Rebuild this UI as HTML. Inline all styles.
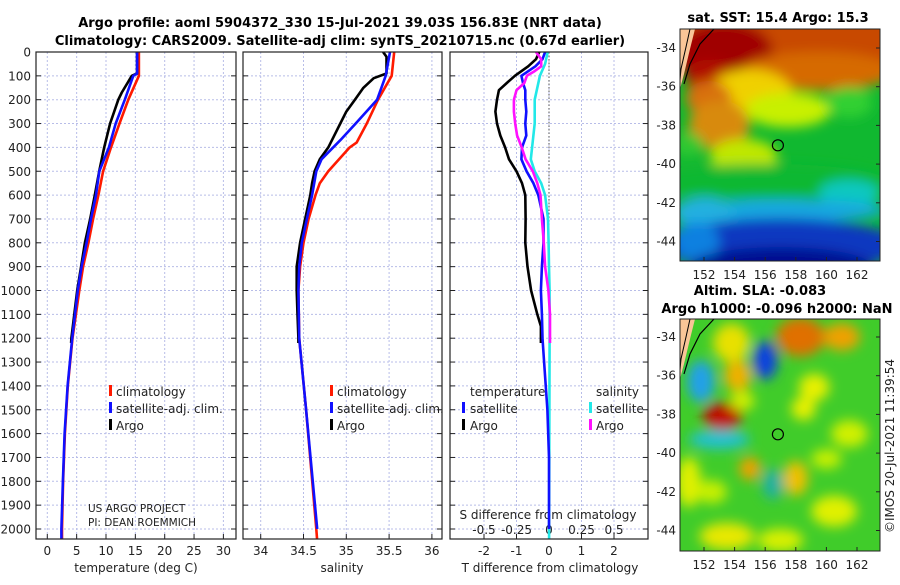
<!DOCTYPE html>
<html><head><meta charset="utf-8"><style>
body{margin:0;background:#fff;width:900px;height:580px;overflow:hidden}
text{font-family:"DejaVu Sans","Liberation Sans",sans-serif;fill:#222}
.t{font-weight:bold;font-size:13px;fill:#000}
</style></head><body>
<svg id="chart" width="900" height="580" viewBox="0 0 900 580" xmlns="http://www.w3.org/2000/svg">
<defs>
<clipPath id="c1"><rect x="36" y="52" width="200" height="487"/></clipPath>
<clipPath id="c2"><rect x="243" y="52" width="199" height="487"/></clipPath>
<clipPath id="c3"><rect x="450" y="52" width="198" height="487"/></clipPath>
<clipPath id="m1"><rect x="680" y="29" width="200" height="232"/></clipPath>
<clipPath id="m2"><rect x="680" y="319" width="200" height="232"/></clipPath>
<filter id="bl" x="-20%" y="-20%" width="140%" height="140%"><feGaussianBlur stdDeviation="6"/></filter>
</defs>
<text class="t" x="340" y="27" text-anchor="middle">Argo profile: aoml 5904372_330 15-Jul-2021 39.03S 156.83E (NRT data)</text>
<text class="t" x="340" y="45" text-anchor="middle">Climatology: CARS2009. Satellite-adj clim: synTS_20210715.nc (0.67d earlier)</text>
<g id="plots"></g>
<g id="maps"></g>
</svg>
<script>
const depths1=[0,90,100,200,300,400,500,600,700,800,900,1000,1200,1400,1600,1800,2000,2050];
const tempClim=[15.6,15.6,15.6,13.8,12.3,10.85,9.5,8.7,7.8,7.0,6.1,5.45,4.3,3.5,3.0,2.7,2.5,2.5];
const tempSat=[15.3,15.3,14.65,13.2,11.65,10.5,8.86,8.3,7.45,6.7,5.85,5.2,4.25,3.45,2.95,2.65,2.4,2.4];
const depthsArgo=[0,90,100,170,200,300,400,500,600,700,800,900,1000,1100,1200,1220];
const tempArgo=[15.3,15.3,14.4,12.7,12.1,10.7,9.7,8.85,8.1,7.3,6.4,5.75,5.1,4.6,4.1,4.05];
const depthsS=[0,100,150,200,300,380,400,500,550,600,700,800,900,1000,1200,1500,2000,2050];
const salClim=[35.56,35.53,35.45,35.37,35.24,35.12,35.04,34.79,34.69,34.64,34.56,34.5,34.46,34.44,34.45,34.53,34.65,34.66];
const depthsSSat=[0,100,200,300,370,450,500,600,700,800,900,1000,1200,1500,2000];
const salSat=[35.51,35.46,35.36,35.11,34.93,34.71,34.65,34.6,34.54,34.48,34.45,34.44,34.45,34.53,34.66];
const depthsSArgo=[0,20,90,110,150,200,250,300,400,450,500,550,600,700,800,900,1000,1100,1200,1220];
const salArgo=[35.43,35.47,35.47,35.32,35.2,35.1,35.0,34.93,34.79,34.69,34.63,34.6,34.58,34.52,34.46,34.42,34.42,34.43,34.44,34.44];
const depthsD=[0,30,60,100,130,160,200,250,300,350,400,450,500,550,600,700,800,900,1000,1100,1150,1200,1220];
const tDiffArgo=[-0.3,-0.4,-0.64,-1.05,-1.3,-1.54,-1.6,-1.65,-1.6,-1.5,-1.35,-1.23,-1.0,-0.83,-0.73,-0.72,-0.73,-0.66,-0.55,-0.36,-0.25,-0.25,-0.25];
const depthsDSat=[0,30,60,100,130,160,200,250,300,350,400,450,500,550,600,700,800,900,1000,1100,1200,1300,1500,1700,2000];
const tDiffSat=[-0.12,-0.2,-0.42,-0.85,-0.8,-0.73,-0.73,-0.7,-0.73,-0.7,-0.83,-0.85,-0.69,-0.48,-0.33,-0.17,-0.17,-0.22,-0.25,-0.22,-0.2,-0.15,-0.05,0,0];
const depthsSD=[0,30,60,80,100,130,160,200,250,300,350,400,450,500,550,600,700,800,900,1000,1100,1200,1220];
const sDiffArgo=[-0.1,-0.06,-0.06,-0.11,-0.17,-0.19,-0.25,-0.27,-0.27,-0.26,-0.245,-0.21,-0.18,-0.125,-0.09,-0.065,-0.055,-0.04,-0.03,-0.005,0.008,0.008,0.008];
const depthsSDSat=[0,50,100,200,300,400,450,500,550,600,700,800,900,1000,1200,1500,2000,2050];
const sDiffSat=[-0.01,-0.03,-0.07,-0.11,-0.11,-0.13,-0.14,-0.11,-0.06,-0.03,-0.008,-0.003,0.0,0.005,0.005,0.003,0.001,0.001];
const depthTicks=[0,100,200,300,400,500,600,700,800,900,1000,1100,1200,1300,1400,1500,1600,1700,1800,1900,2000];
const tempTicks=[0,5,10,15,20,25,30];
const salTicks=[34,34.5,35,35.5,36];
const tdTicks=[-2,-1,0,1,2];
const sdTicks=[-0.5,-0.25,0,0.25,0.5];
const sdTickLabels=["-0.5","-0.25","0","0.25","0.5"];

const NS="http://www.w3.org/2000/svg";
function mk(tag,attrs,parent){const e=document.createElementNS(NS,tag);for(const k in attrs)e.setAttribute(k,attrs[k]);parent.appendChild(e);return e;}
const yD=d=>52+d*0.2385;
const xT=v=>47.3+v*5.87;
const xS=v=>260.7+(v-34)*85.6;
const xTD=v=>549+v*32.5;
const xSD=v=>549+v*130;
const G=document.getElementById('plots');

const panels=[{x:36,w:200,clip:'c1',name:'temperature-panel'},{x:243,w:199,clip:'c2',name:'salinity-panel'},{x:450,w:198,clip:'c3',name:'difference-panel'}];
function grid(p,xs){
  xs.forEach(x=>{const l=mk('line',{x1:x,x2:x,y1:52,y2:539,stroke:'#b8bde8','stroke-width':1,'stroke-dasharray':'2,2'},G);
  
  });
  depthTicks.forEach(d=>{const l=mk('line',{x1:p.x,x2:p.x+p.w,y1:yD(d),y2:yD(d),stroke:'#b8bde8','stroke-width':1,'stroke-dasharray':'2,2'},G);
  
  
  const t1=mk('line',{x1:p.x,x2:p.x+5,y1:yD(d),y2:yD(d),stroke:'#222','stroke-width':1},G);
  
  
  const t2=mk('line',{x1:p.x+p.w-5,x2:p.x+p.w,y1:yD(d),y2:yD(d),stroke:'#222','stroke-width':1},G);
  
  });
  xs.forEach(x=>{const t=mk('line',{x1:x,x2:x,y1:534,y2:539,stroke:'#222'},G);
  
  });
}
grid(panels[0],tempTicks.map(xT));
grid(panels[1],salTicks.map(xS));
grid(panels[2],tdTicks.map(xTD));
const zl=mk('line',{x1:549,x2:549,y1:52,y2:539,stroke:'#555','stroke-dasharray':'1.5,2'},G);



depthTicks.forEach(d=>{const t=mk('text',{x:31,y:yD(d)+4.5,'text-anchor':'end','font-size':12},G);t.textContent=d;

});
function xlabels(ticks,fx,labels,y){ticks.forEach((v,i)=>{const t=mk('text',{x:fx(v),y:y,'text-anchor':'middle','font-size':12},G);t.textContent=labels?labels[i]:v;

});}
xlabels(tempTicks,xT,null,555);
xlabels(salTicks,xS,null,555);
xlabels(tdTicks,xTD,null,555);
xlabels(sdTicks,xSD,sdTickLabels,534);
function txt(s,x,y,name,size,anchor){const t=mk('text',{x:x,y:y,'font-size':size||12,'text-anchor':anchor||'start'},G);t.textContent=s;

return t;}
txt('temperature (deg C)',136,572,'x-axis-title-temperature',12,'middle');
txt('salinity',342,572,'x-axis-title-salinity',12,'middle');
txt('T difference from climatology',550,572,'x-axis-title-t-difference',12,'middle');
txt('S difference from climatology',548,519,'s-axis-title',12,'middle');
txt('US ARGO PROJECT',88,512,'credit-project',10.5);
txt('PI: DEAN ROEMMICH',88,526,'credit-pi',10.5);

function line(ds,vs,fx,color,clip,name){
  const pts=ds.map((d,i)=>fx(vs[i]).toFixed(1)+','+yD(d).toFixed(1)).join(' ');
  const p=mk('polyline',{points:pts,fill:'none',stroke:color,'stroke-width':2.6,'stroke-linejoin':'round','clip-path':'url(#'+clip+')'},G);
  
  
}
line(depths1,tempClim,xT,'#ff1a00','c1','temperature-climatology-line');
line(depthsArgo,tempArgo,xT,'#000','c1','temperature-argo-line');
line(depths1,tempSat,xT,'#1010ff','c1','temperature-satellite-line');
line(depthsS,salClim,xS,'#ff1a00','c2','salinity-climatology-line');
line(depthsSArgo,salArgo,xS,'#000','c2','salinity-argo-line');
line(depthsSSat,salSat,xS,'#1010ff','c2','salinity-satellite-line');
line(depthsD,tDiffArgo,xTD,'#000','c3','t-diff-argo-line');
line(depthsSDSat,sDiffSat,xSD,'#22e8e8','c3','s-diff-satellite-line');
line(depthsDSat,tDiffSat,xTD,'#1010ff','c3','t-diff-satellite-line');
line(depthsSD,sDiffArgo,xSD,'#ff10ff','c3','s-diff-argo-line');

panels.forEach(p=>{const r=mk('rect',{x:p.x,y:52,width:p.w,height:487,fill:'none',stroke:'#222','stroke-width':1.2},G);

});

function legend(x,items){items.forEach((it,i)=>{const y=391+i*17;
  const b=mk('rect',{x:x,y:y-6,width:3,height:11,fill:it[1]},G);
  
  
  txt(it[0],x+7,y+5,'legend-entry');});}
legend(109,[['climatology','#ff1a00'],['satellite-adj. clim.','#1010ff'],['Argo','#000']]);
legend(330,[['climatology','#ff1a00'],['satellite-adj. clim.','#1010ff'],['Argo','#000']]);
txt('temperature',470,396,'legend-title-temperature');
txt('salinity',596,396,'legend-title-salinity');
[['satellite','#1010ff',408],['Argo','#000',425]].forEach(it=>{const b=mk('rect',{x:462,y:it[2]-6,width:3,height:11,fill:it[1]},G);


txt(it[0],470,it[2]+5,'legend-entry');});
[['satellite','#22e8e8',408],['Argo','#ff10ff',425]].forEach(it=>{const b=mk('rect',{x:589,y:it[2]-6,width:3,height:11,fill:it[1]},G);


txt(it[0],596,it[2]+5,'legend-entry');});

// maps
const M=document.getElementById('maps');
const lonX=l=>704+(l-152)*15.3;
function map(y0,lat0,clip,bg,blobs,name){
  const yL=lat=>lat0+(-34-lat)*19.35;
  const g=mk('g',{'clip-path':'url(#'+clip+')'},M);
  
  
  mk('rect',{x:680,y:y0,width:200,height:232,fill:bg},g);
  const gb=mk('g',{filter:'url(#bl)'},g);
  blobs.forEach(b=>mk('ellipse',{cx:lonX(b[0]),cy:yL(b[1]),rx:b[2]*15.3,ry:b[3]*19.35,fill:b[4]},gb));
  mk('path',{d:`M680,${y0} L695,${y0} L690,${y0+20} L684,${y0+45} L680,${y0+60} Z`,fill:'#f9c597'},g);
  mk('path',{d:`M690,${y0} L686,${y0+18} L681,${y0+40} L679,${y0+62}`,fill:'none',stroke:'#000','stroke-width':1},g);
  mk('path',{d:`M714,${y0} L700,${y0+15} L690,${y0+35} L684,${y0+55}`,fill:'none',stroke:'#000','stroke-width':1.2},g);
  const c=mk('circle',{cx:lonX(156.83),cy:yL(-39.03),r:5.5,fill:'none',stroke:'#000','stroke-width':1.2},M);
  
  
  const fr=mk('rect',{x:680,y:y0,width:200,height:232,fill:'none',stroke:'#222','stroke-width':1},M);
  
  
  [-34,-36,-38,-40,-42,-44].forEach(l=>{const t=mk('text',{x:676,y:yL(l)+4,'text-anchor':'end','font-size':12},M);t.textContent=l;
    
    
    mk('line',{x1:876,x2:880,y1:yL(l),y2:yL(l),stroke:'#222'},M);});
  [152,154,156,158,160,162].forEach(l=>{const t=mk('text',{x:lonX(l),y:y0+250,'text-anchor':'middle','font-size':12},M);t.textContent=l;
    
    
    mk('line',{x1:lonX(l),x2:lonX(l),y1:y0+232,y2:y0+228,stroke:'#222'},M);});
}
map(29,48,'m1','#10b830',[
 [158,-33,9,2.4,'#c84a00'],[153.3,-34.2,3.2,1.6,'#a00000'],[152.3,-35.5,1.5,0.9,'#b01000'],[159.5,-35.2,5,1,'#d66a00'],
 [155,-36.4,2.8,1.3,'#f0d000'],[152.3,-36.6,1.5,0.9,'#d87010'],[157.5,-37.2,2.8,0.9,'#c8f000'],[161.5,-36.8,1.5,0.8,'#30d030'],
 [153,-38,2,1.3,'#d88a10'],[154.6,-39.6,2.2,0.9,'#c0e800'],[151,-39,1,0.6,'#30c830'],
 [156,-40.9,8,0.9,'#10b830'],[161.5,-41.5,2,0.7,'#10c8c0'],[157,-42.4,7,0.6,'#18a8e0'],[152,-42.5,2,0.8,'#20b0e0'],
 [157,-44.2,8,1.4,'#0838c0'],[151.5,-44,1.5,1,'#1080e0'],[157,-45.3,6,1,'#001090']],'sst-map');
map(319,337,'m2','#40cc2a',[
 [153.8,-34.3,1.2,1,'#e8e000'],[158.3,-34,1.6,1,'#e07000'],[161,-34,1.2,0.7,'#f0a000'],
 [156,-35.2,0.8,1,'#1040e0'],[151.8,-36.3,0.9,1.1,'#20a0e8'],[154.2,-36,0.9,0.8,'#f0b000'],
 [153.2,-38.1,1.3,0.7,'#c01000'],[153,-39.3,2,0.5,'#20c0d0'],[159.2,-36.6,1,0.7,'#e8f000'],
 [155,-40.8,0.7,0.6,'#f0a000'],[156.5,-41.6,0.7,0.8,'#20b0a0'],[158,-41.3,0.8,0.9,'#f0c000'],
 [151,-41.5,0.8,1.3,'#e0f000'],[160.5,-43,1.5,0.8,'#e0f000'],[153.5,-44.3,1.8,0.7,'#e8e800'],
 [161.5,-39,1.2,0.7,'#d0f000'],[158.5,-37.7,0.8,0.6,'#e8f000'],[157,-44.5,1.5,0.6,'#d8f000'],
 [152.5,-42,1,0.6,'#c8f000'],[160,-40.3,1,0.5,'#c8f000'],[154.5,-37.3,0.8,0.5,'#d0f000']],'sla-map');
const tt=[['sat. SST: 15.4 Argo: 15.3',778,22,'sst-map-title'],['Altim. SLA: -0.083',760,295,'sla-map-title-1'],['Argo h1000: -0.096 h2000: NaN',777,313,'sla-map-title-2']];
tt.forEach(a=>{const t=mk('text',{x:a[1],y:a[2],'text-anchor':'middle',class:'t'},M);t.textContent=a[0];

});
const cr=mk('text',{x:0,y:0,'font-size':12,'text-anchor':'middle',transform:'translate(894,446) rotate(-90)'},M);
cr.textContent='©IMOS 20-Jul-2021 11:39:54';


</script>
</body></html>
